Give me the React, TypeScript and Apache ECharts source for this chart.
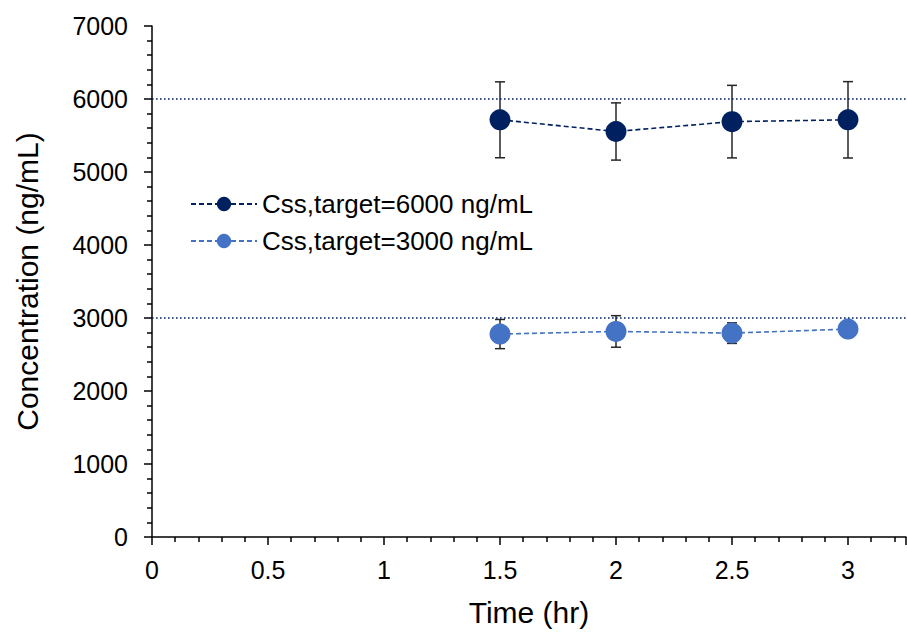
import React, { useEffect, useRef } from "react";
import * as echarts from "echarts";

const times = [1.5, 2, 2.5, 3];
const mean6000 = [5715, 5555, 5690, 5715];
const sd6000 = [520, 392, 497, 523];
const mean3000 = [2780, 2816, 2793, 2848];
const sd3000 = [200, 216, 141, 60];
const targets = [6000, 3000];
const name6000 = "Css,target=6000 ng/mL";
const name3000 = "Css,target=3000 ng/mL";

const DARK = "#002060";
const LIGHT = "#4472C4";
const FONT = "'Liberation Sans', Arial, sans-serif";

function errData(means: number[], sds: number[]) {
  return times.map((t, i) => [t, means[i] - sds[i], means[i] + sds[i]]);
}

function errRender(params: any, api: any) {
  const x = api.value(0);
  const lo = api.coord([x, api.value(1)]);
  const hi = api.coord([x, api.value(2)]);
  const cap = 5;
  const style = { stroke: "#262626", lineWidth: 1.5 };
  return {
    type: "group",
    children: [
      { type: "line", shape: { x1: lo[0], y1: lo[1], x2: hi[0], y2: hi[1] }, style },
      { type: "line", shape: { x1: lo[0] - cap, y1: lo[1], x2: lo[0] + cap, y2: lo[1] }, style },
      { type: "line", shape: { x1: hi[0] - cap, y1: hi[1], x2: hi[0] + cap, y2: hi[1] }, style },
    ],
  };
}

export default function App() {
  const ref = useRef<HTMLDivElement>(null);
  useEffect(() => {
    if (!ref.current) return;
    const chart = echarts.init(ref.current, null, { renderer: "svg" });
    chart.setOption({
      animation: false,
      textStyle: { fontFamily: FONT },
      grid: { left: 152, top: 26, right: 1, bottom: 94, containLabel: false },
      legend: {
        data: [name6000, name3000],
        orient: "vertical",
        left: 185,
        top: 186,
        itemWidth: 66,
        itemHeight: 18,
        itemGap: 11,
        textStyle: { fontSize: 26, color: "#000", fontFamily: FONT },
      },
      xAxis: {
        type: "value",
        min: 0,
        max: 3.25,
        interval: 0.5,
        name: "Time (hr)",
        nameLocation: "middle",
        nameGap: 60,
        nameTextStyle: { fontSize: 30, color: "#000", fontFamily: FONT },
        axisLine: { onZero: false, lineStyle: { color: "#000", width: 1.5 } },
        axisTick: { show: true, inside: false, length: 8, lineStyle: { color: "#000", width: 1.5 } },
        minorTick: { show: true, splitNumber: 5, length: 5, lineStyle: { color: "#000", width: 1.5 } },
        axisLabel: { fontSize: 25, color: "#000", margin: 20, showMaxLabel: false, fontFamily: FONT },
        splitLine: { show: false },
      },
      yAxis: {
        type: "value",
        min: 0,
        max: 7000,
        interval: 1000,
        name: "Concentration (ng/mL)",
        nameLocation: "middle",
        nameGap: 110,
        nameTextStyle: { fontSize: 30, color: "#000", fontFamily: FONT },
        axisLine: { show: true, onZero: false, lineStyle: { color: "#000", width: 1.5 } },
        axisTick: { show: true, inside: false, length: 8, lineStyle: { color: "#000", width: 1.5 } },
        minorTick: { show: true, splitNumber: 5, length: 5, lineStyle: { color: "#000", width: 1.5 } },
        axisLabel: {
          fontSize: 25,
          color: "#000",
          margin: 24,
          fontFamily: FONT,
          formatter: (v: number) => String(v),
        },
        splitLine: { show: false },
      },
      series: [
        {
          type: "custom",
          name: "err6000",
          renderItem: errRender,
          data: errData(mean6000, sd6000),
          encode: { x: 0, y: [1, 2] },
          z: 1,
          silent: true,
        },
        {
          type: "custom",
          name: "err3000",
          renderItem: errRender,
          data: errData(mean3000, sd3000),
          encode: { x: 0, y: [1, 2] },
          z: 1,
          silent: true,
        },
        {
          type: "line",
          name: name6000,
          data: times.map((t, i) => [t, mean6000[i]]),
          symbol: "circle",
          symbolSize: 21,
          itemStyle: { color: DARK },
          lineStyle: { color: DARK, width: 1.6, type: [5, 3] },
          z: 3,
          markLine: {
            silent: true,
            symbol: ["none", "none"],
            label: { show: false },
            lineStyle: { color: DARK, width: 1.6, type: [1.6, 2.4] },
            data: targets.map((v) => ({ yAxis: v })),
          },
        },
        {
          type: "line",
          name: name3000,
          data: times.map((t, i) => [t, mean3000[i]]),
          symbol: "circle",
          symbolSize: 21,
          itemStyle: { color: LIGHT },
          lineStyle: { color: LIGHT, width: 1.6, type: [5, 3] },
          z: 3,
        },
      ],
    });
    return () => chart.dispose();
  }, []);
  return (
    <div
      ref={ref}
      style={{ position: "absolute", left: 0, top: 0, width: 907, height: 632, background: "#fff" }}
    />
  );
}
